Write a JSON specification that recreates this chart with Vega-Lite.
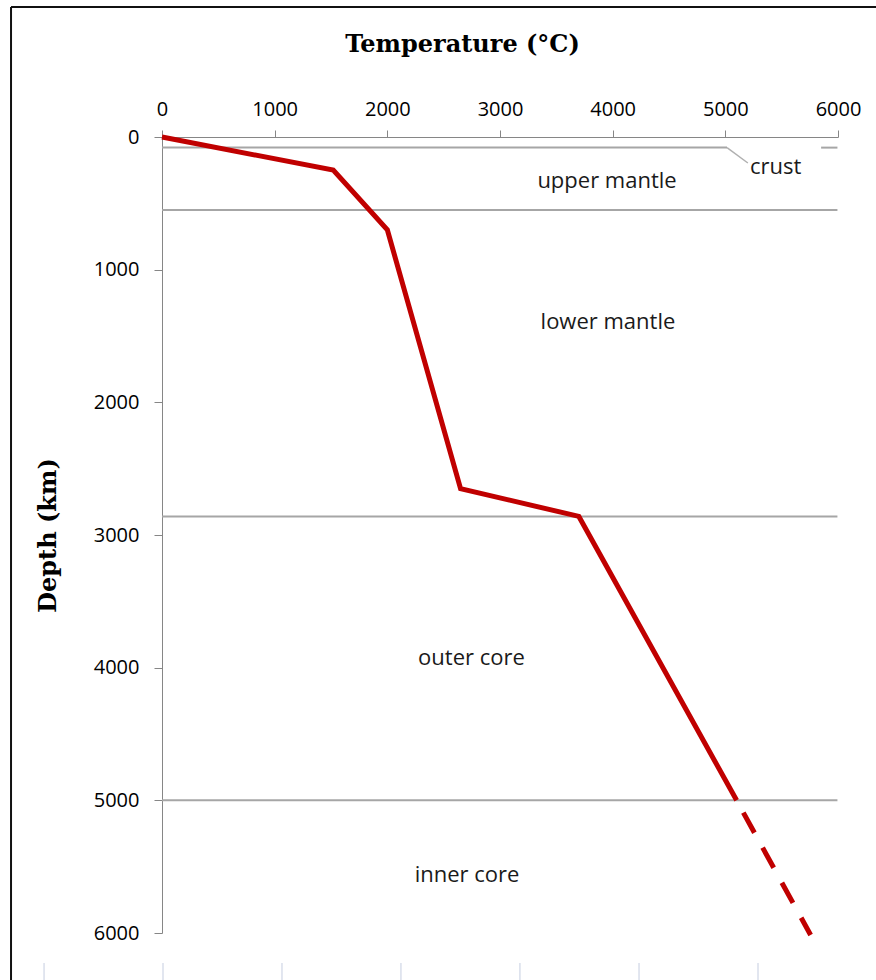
{
  "$schema": "https://vega.github.io/schema/vega-lite/v6.json",
  "width": 676,
  "height": 796,
  "autosize": {"type": "none"},
  "padding": {"left": 162, "top": 137, "right": 38, "bottom": 47},
  "background": "#ffffff",
  "config": {
    "view": {"stroke": null},
    "axis": {
      "grid": false,
      "domainColor": "#868686",
      "tickColor": "#868686",
      "labelFont": "Open Sans",
      "labelFontSize": 20,
      "labelColor": "#000000",
      "titleFont": "DejaVu Serif",
      "titleFontWeight": "bold",
      "titleFontSize": 24,
      "titleColor": "#000000",
      "labelOverlap": false,
      "labelFlush": false,
      "format": "d"
    }
  },
  "datasets": {
    "border": [
      {"t": -1340, "d": -980, "t2": 7000, "d2": -980},
      {"t": -1340, "d": -980, "t2": -1340, "d2": 7000}
    ],
    "bottomticks": [
      {"t": -1047, "d": 6226, "d2": 6600},
      {"t": 9, "d": 6226, "d2": 6600},
      {"t": 1065, "d": 6226, "d2": 6600},
      {"t": 2121, "d": 6226, "d2": 6600},
      {"t": 3177, "d": 6226, "d2": 6600},
      {"t": 4234, "d": 6226, "d2": 6600},
      {"t": 5290, "d": 6226, "d2": 6600}
    ],
    "boundaries": [
      {"t": 0, "t2": 5015, "d": 80, "d2": 80},
      {"t": 5850, "t2": 5995, "d": 80, "d2": 80},
      {"t": 0, "t2": 5995, "d": 550, "d2": 550},
      {"t": 0, "t2": 5995, "d": 2860, "d2": 2860},
      {"t": 0, "t2": 5995, "d": 5000, "d2": 5000}
    ],
    "leader": [
      {"t": 5015, "t2": 5200, "d": 80, "d2": 196}
    ],
    "solid": [
      {"t": 0, "d": 0},
      {"t": 1520, "d": 250},
      {"t": 2000, "d": 700},
      {"t": 2650, "d": 2650},
      {"t": 3700, "d": 2860},
      {"t": 5100, "d": 5000}
    ],
    "dashed": [
      {"t": 5100, "d": 5000},
      {"t": 5757, "d": 6015}
    ],
    "labels": [
      {"t": 3950, "d": 332, "label": "upper mantle"},
      {"t": 5446, "d": 226, "label": "crust"},
      {"t": 3958, "d": 1394, "label": "lower mantle"},
      {"t": 2747, "d": 3927, "label": "outer core"},
      {"t": 2707, "d": 5563, "label": "inner core"}
    ]
  },
  "encoding": {
    "x": {
      "field": "t",
      "type": "quantitative",
      "scale": {"domain": [0, 6000], "nice": false, "zero": false},
      "axis": {
        "orient": "top",
        "title": "Temperature (°C)",
        "titleX": 300,
        "titleY": -86,
        "titleBaseline": "alphabetic",
        "titleAlign": "center",
        "values": [0, 1000, 2000, 3000, 4000, 5000, 6000],
        "tickSize": 7,
        "labelPadding": 15,
        "labelBaseline": "alphabetic"
      }
    },
    "y": {
      "field": "d",
      "type": "quantitative",
      "scale": {"domain": [0, 6000], "reverse": true, "nice": false, "zero": false},
      "axis": {
        "orient": "left",
        "title": "Depth (km)",
        "titleX": -114,
        "titleY": 398,
        "titleAngle": -90,
        "titleAlign": "center",
        "titleBaseline": "middle",
        "values": [0, 1000, 2000, 3000, 4000, 5000, 6000],
        "tickSize": 8,
        "labelPadding": 15
      }
    }
  },
  "layer": [
    {
      "data": {"name": "border"},
      "mark": {"type": "rule", "color": "#111111", "strokeWidth": 2},
      "encoding": {
        "x2": {"field": "t2"},
        "y2": {"field": "d2"}
      }
    },
    {
      "data": {"name": "bottomticks"},
      "mark": {"type": "rule", "color": "#c5cde0", "strokeWidth": 1},
      "encoding": {
        "y2": {"field": "d2"}
      }
    },
    {
      "data": {"name": "boundaries"},
      "mark": {"type": "rule", "color": "#a6a6a6", "strokeWidth": 2},
      "encoding": {
        "x2": {"field": "t2"},
        "y2": {"field": "d2"}
      }
    },
    {
      "data": {"name": "leader"},
      "mark": {"type": "rule", "color": "#b0b0b0", "strokeWidth": 1.5},
      "encoding": {
        "x2": {"field": "t2"},
        "y2": {"field": "d2"}
      }
    },
    {
      "data": {"name": "solid"},
      "mark": {"type": "line", "color": "#c00000", "strokeWidth": 5, "strokeCap": "butt"},
      "encoding": {}
    },
    {
      "data": {"name": "dashed"},
      "mark": {"type": "line", "color": "#c00000", "strokeWidth": 5, "strokeCap": "butt", "strokeDash": [23, 17], "strokeDashOffset": 26},
      "encoding": {}
    },
    {
      "data": {"name": "labels"},
      "mark": {"type": "text", "font": "Open Sans", "fontSize": 22, "color": "#1a1a1a", "align": "center", "baseline": "middle"},
      "encoding": {
        "text": {"field": "label"}
      }
    }
  ]
}
